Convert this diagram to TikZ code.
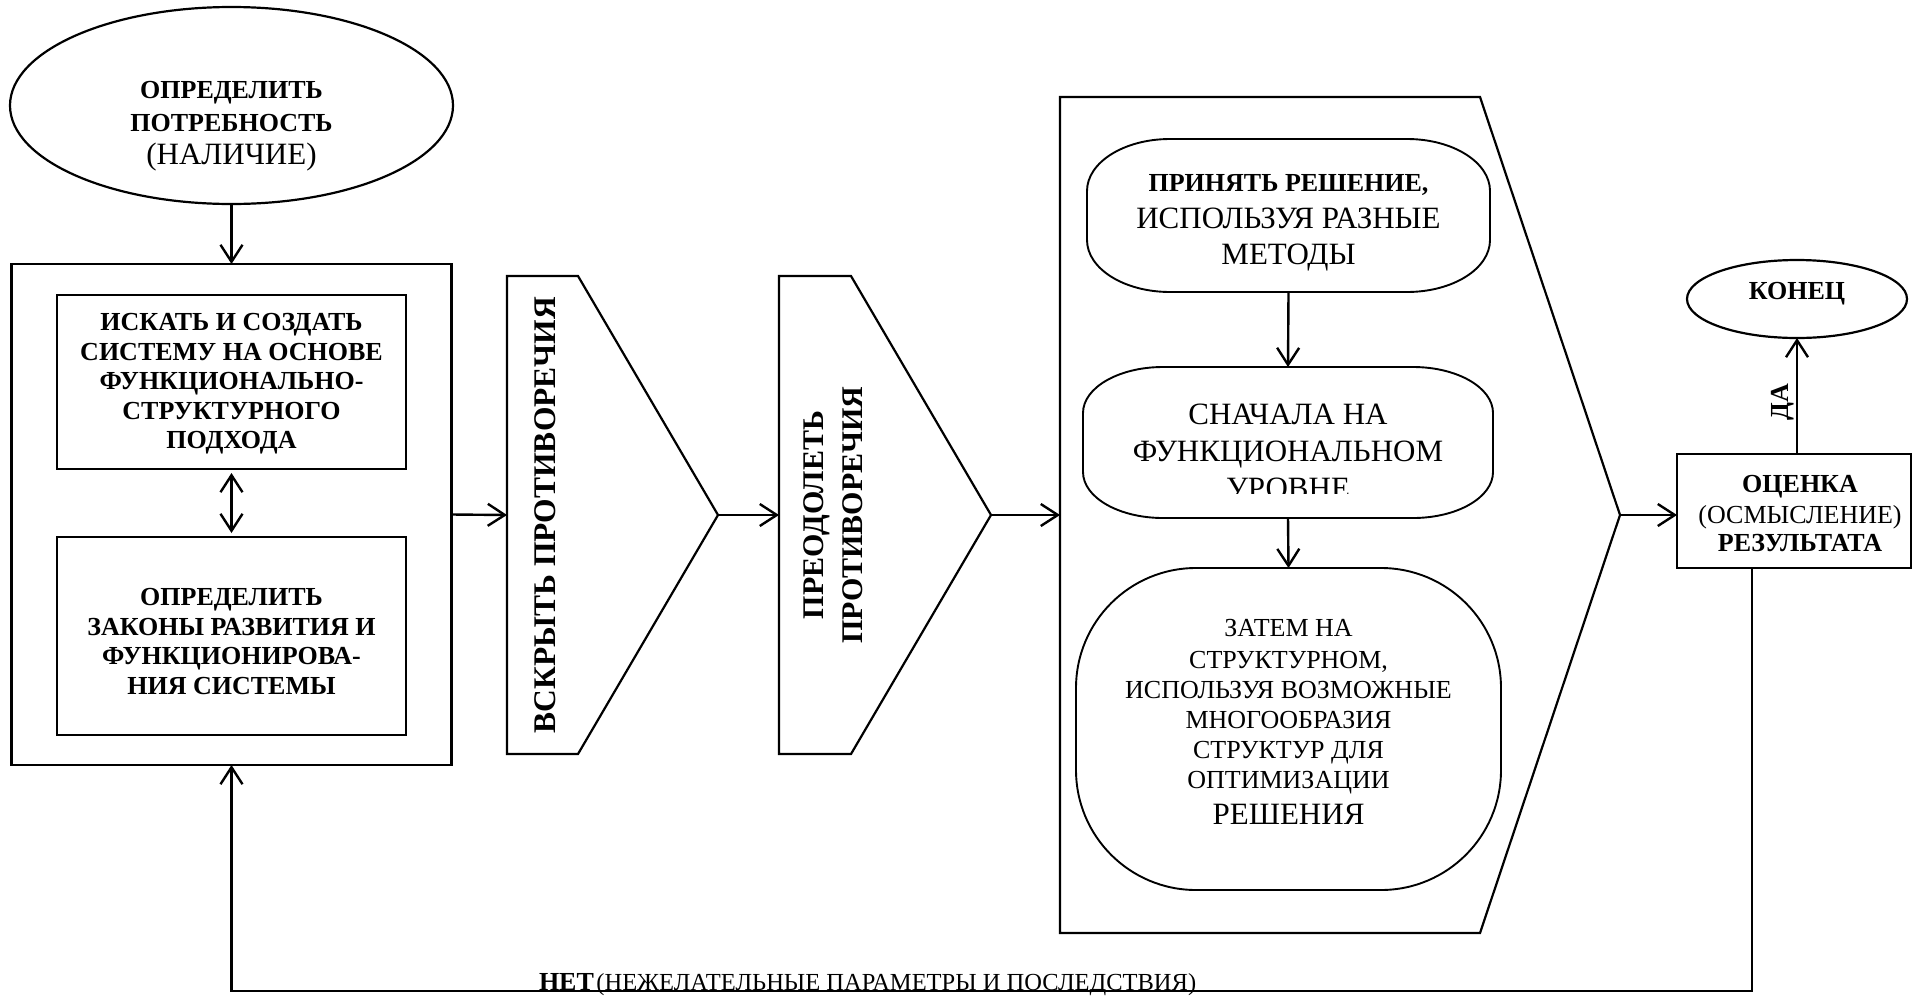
\documentclass[tikz,border=0pt]{standalone}
\usepackage{fontspec}
\setmainfont{Liberation Serif}
\usetikzlibrary{shapes.geometric,arrows.meta,calc}

\tikzset{
  every node/.style={inner sep=0pt, outer sep=0pt},
  ln/.style={line width=2.2pt, line join=miter},
  frame/.style={draw, rectangle, line width=2.4pt},
  area/.style={rectangle},
  oval/.style={draw, ellipse, line width=2.2pt},
  rbox/.style={line width=1.9pt},
  arr/.style={line width=2.4pt, -{Straight Barb[length=17pt,width=22pt]}},
  darr/.style={line width=2.4pt, {Straight Barb[length=17pt,width=22pt]}-{Straight Barb[length=17pt,width=22pt]}},
  tb/.style={anchor=base, font=\bfseries\fontsize{26}{30}\selectfont},
  tr/.style={anchor=base, font=\fontsize{31}{36}\selectfont},
  tm/.style={anchor=base, font=\fontsize{26}{30}\selectfont},
  vt/.style={rotate=90, font=\bfseries\fontsize{30}{36}\selectfont},
}

% rounded box with elliptical corners drawn around an anchor node
\newcommand\roundbox[3]{%
  \draw[rbox] let \p1=(#1.north west), \p2=(#1.south east) in
    (\x1+#2,\y1) -- (\x2-#2,\y1)
    arc[start angle=90,end angle=0,x radius=#2,y radius=#3]
    -- (\x2,\y2+#3)
    arc[start angle=0,end angle=-90,x radius=#2,y radius=#3]
    -- (\x1+#2,\y2)
    arc[start angle=270,end angle=180,x radius=#2,y radius=#3]
    -- (\x1,\y1-#3)
    arc[start angle=180,end angle=90,x radius=#2,y radius=#3] -- cycle;}

% pentagon pointing right, drawn around an anchor node
\newcommand\pentagon[2]{%
  \draw[ln] (#1.north west) -- ([xshift=#2]#1.north west) -- (#1.east)
    -- ([xshift=#2]#1.south west) -- (#1.south west) -- cycle;}

\begin{document}
\begin{tikzpicture}[x=1pt,y=-1pt]
\useasboundingbox (0,0) rectangle (1913,996);

% ---- left column ----
\node[oval, minimum width=443pt, minimum height=197pt] (need) at (231.5,105.5) {};
\node[tb] (need1) at (231.5,98.5) {ОПРЕДЕЛИТЬ};
\node[tb] (need2) at (231.5,131) {ПОТРЕБНОСТЬ};
\node[tr] (need3) at (231.5,164) {(НАЛИЧИЕ)};

\node[frame, minimum width=440pt, minimum height=501pt] (sys) at (231.5,514.5) {};
\node[frame, minimum width=349pt, minimum height=174pt] (boxA) at (231.5,382) {};
\node[frame, minimum width=349pt, minimum height=198pt] (boxB) at (231.5,636) {};

\node[tb] (a1) at (231.5,330.5) {ИСКАТЬ И СОЗДАТЬ};
\node[tb] (a2) at (231.5,360) {СИСТЕМУ НА ОСНОВЕ};
\node[tb] (a3) at (231.5,389.5) {ФУНКЦИОНАЛЬНО-};
\node[tb] (a4) at (231.5,419) {СТРУКТУРНОГО};
\node[tb] (a5) at (231.5,448.5) {ПОДХОДА};

\node[tb] (b1) at (231.5,605.5) {ОПРЕДЕЛИТЬ};
\node[tb] (b2) at (231.5,635) {ЗАКОНЫ РАЗВИТИЯ И};
\node[tb] (b3) at (231.5,664.5) {ФУНКЦИОНИРОВА-};
\node[tb] (b4) at (231.5,694) {НИЯ СИСТЕМЫ};

% ---- contradiction steps ----
\node[area, minimum width=211pt, minimum height=478pt] (p1) at (612.5,515) {};
\pentagon{p1}{71pt}
\node[vt, font=\bfseries\fontsize{31.5}{36}\selectfont] (p1t) at (545,515) {ВСКРЫТЬ ПРОТИВОРЕЧИЯ};

\node[area, minimum width=212pt, minimum height=478pt] (p2) at (885,515) {};
\pentagon{p2}{72pt}
\node[vt] (p2t1) at (817,515) {ПРЕОДОЛЕТЬ};
\node[vt] (p2t2) at (853,515) {ПРОТИВОРЕЧИЯ};

% ---- decision block ----
\node[area, minimum width=560pt, minimum height=836pt] (bigp) at (1340,515) {};
\pentagon{bigp}{420pt}

\node[area, minimum width=403pt, minimum height=153pt] (r1) at (1288.5,215.5) {};
\roundbox{r1}{83pt}{52pt}
\node[tb] (r1a) at (1288.5,191) {ПРИНЯТЬ РЕШЕНИЕ,};
\node[tr] (r1b) at (1288.5,228) {ИСПОЛЬЗУЯ РАЗНЫЕ};
\node[tr] (r1c) at (1288.5,264.5) {МЕТОДЫ};

\node[area, minimum width=410pt, minimum height=151pt] (r2) at (1288,442.5) {};
\roundbox{r2}{80pt}{46pt}
\node[tr] (r2a) at (1288,424.5) {СНАЧАЛА НА};
\node[tr] (r2b) at (1288,461.5) {ФУНКЦИОНАЛЬНОМ};
\begin{scope}
  \clip (1083,367) rectangle (1493,493);
  \node[tr] (r2c) at (1288,498.5) {УРОВНЕ};
\end{scope}

\node[area, minimum width=425pt, minimum height=322pt] (r3) at (1288.5,729) {};
\roundbox{r3}{120pt}{120pt}
\node[tm] (r3a) at (1288.5,636.5) {ЗАТЕМ НА};
\node[tm] (r3b) at (1288.5,668.5) {СТРУКТУРНОМ,};
\node[tm] (r3c) at (1288.5,698.5) {ИСПОЛЬЗУЯ ВОЗМОЖНЫЕ};
\node[tm] (r3d) at (1288.5,728.5) {МНОГООБРАЗИЯ};
\node[tm] (r3e) at (1288.5,758.5) {СТРУКТУР ДЛЯ};
\node[tm] (r3f) at (1288.5,788.5) {ОПТИМИЗАЦИИ};
\node[tr] (r3g) at (1288.5,824.5) {РЕШЕНИЯ};

% ---- result ----
\node[frame, minimum width=234pt, minimum height=114pt] (assess) at (1794,511) {};
\node[tb] (s1) at (1800,492) {ОЦЕНКА};
\node[tm] (s2) at (1800,523.5) {(ОСМЫСЛЕНИЕ)};
\node[tb] (s3) at (1800,551) {РЕЗУЛЬТАТА};

\node[oval, minimum width=220pt, minimum height=78pt] (konec) at (1797,299) {};
\node[tb] (konect) at (1797,299) {КОНЕЦ};

% ---- connectors ----
\draw[arr] (need.south) -- (sys.north);
\draw[darr, shorten <=4pt, shorten >=4pt] (boxA.south) -- (boxB.north);
\draw[arr] (sys.east) -- (p1.west);
\draw[arr] (p1.east) -- (p2.west);
\draw[arr] (p2.east) -- (bigp.west);
\draw[arr] (r1.south) -- (r2.north);
\draw[arr] (r2.south) -- (r3.north);
\draw[arr] (bigp.east) -- (bigp.east -| assess.west);
\draw[arr] (konec.south |- assess.north) -- (konec.south);
\node[rotate=90, font=\bfseries\fontsize{26}{30}\selectfont] (yes) at (1783,402) {ДА};

\coordinate (fb) at (1752,991);
\draw[arr] (assess.south -| fb) -- (fb) -- (fb -| sys.south) -- (sys.south);
\node[anchor=base west] (no) at (539,990)
  {{\bfseries\fontsize{26}{30}\selectfont НЕТ} {\fontsize{24.5}{28}\selectfont (НЕЖЕЛАТЕЛЬНЫЕ ПАРАМЕТРЫ И ПОСЛЕДСТВИЯ)}};
\end{tikzpicture}
\end{document}
